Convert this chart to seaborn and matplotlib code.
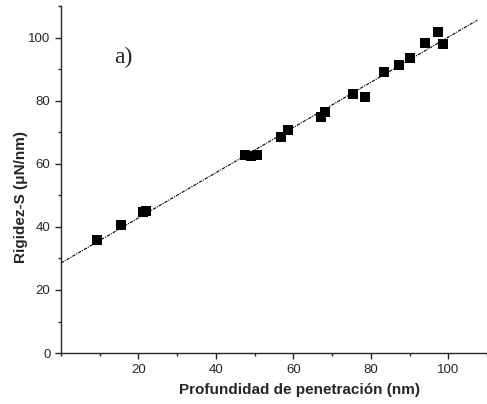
import numpy as np
import pandas as pd
import matplotlib
matplotlib.use("Agg")
import matplotlib.pyplot as plt
import seaborn as sns
from matplotlib.ticker import MultipleLocator

# Values
depth = [9.3, 15.4, 21.1, 21.9, 47.5, 49.0, 50.5, 56.8, 58.7, 67.1, 68.2,
         75.4, 78.5, 83.4, 87.4, 90.1, 93.9, 97.3, 98.6]
stiffness = [36.0, 40.7, 44.6, 44.9, 62.7, 62.6, 62.7, 68.6, 70.6, 74.8, 76.4,
             82.0, 81.1, 89.1, 91.4, 93.6, 98.3, 101.8, 98.1]
df = pd.DataFrame({"depth": depth, "stiffness": stiffness})

sns.set_style("ticks")
plt.rcParams["font.family"] = ["Liberation Sans", "DejaVu Sans"]

fig = plt.figure(figsize=(4.87, 4.04), dpi=100)
ax = fig.add_axes([0.125, 0.126, 0.875, 0.859])

# Linear fit line, drawn over 0..107.5
ax.set_xlim(0, 107.5)
sns.regplot(data=df, x="depth", y="stiffness", scatter=False, ci=None,
            truncate=False, ax=ax,
            line_kws=dict(color="black", lw=0.8, linestyle=(0, (3, 1, 1, 1))))

sns.scatterplot(data=df, x="depth", y="stiffness", marker="s", s=45,
                color="black", edgecolor="black", linewidth=0, ax=ax, zorder=3)

ax.set_xlim(0, 110)
ax.set_ylim(0, 110)
ax.set_xticks([20, 40, 60, 80, 100])
ax.set_yticks([0, 20, 40, 60, 80, 100])
ax.xaxis.set_minor_locator(MultipleLocator(10))
ax.yaxis.set_minor_locator(MultipleLocator(10))
ax.tick_params(which="major", direction="out", length=4, width=1, labelsize=9.5)
ax.tick_params(which="minor", direction="out", length=2.5, width=1)
sns.despine(ax=ax)
for s in ("left", "bottom"):
    ax.spines[s].set_linewidth(1)

ax.set_xlabel("Profundidad de penetración (nm)", fontsize=11,
              fontweight="bold")
ax.set_ylabel("Rigidez-S (μN/nm)", fontsize=11, fontweight="bold")
ax.xaxis.set_label_coords(0.559, -0.086)
ax.yaxis.set_label_coords(-0.077, 0.449)

ax.text(16.1, 93.6, "a)", fontsize=17, family=["Liberation Serif", "DejaVu Serif"],
        ha="center", va="center")

fig.savefig("out.png", dpi=100)
